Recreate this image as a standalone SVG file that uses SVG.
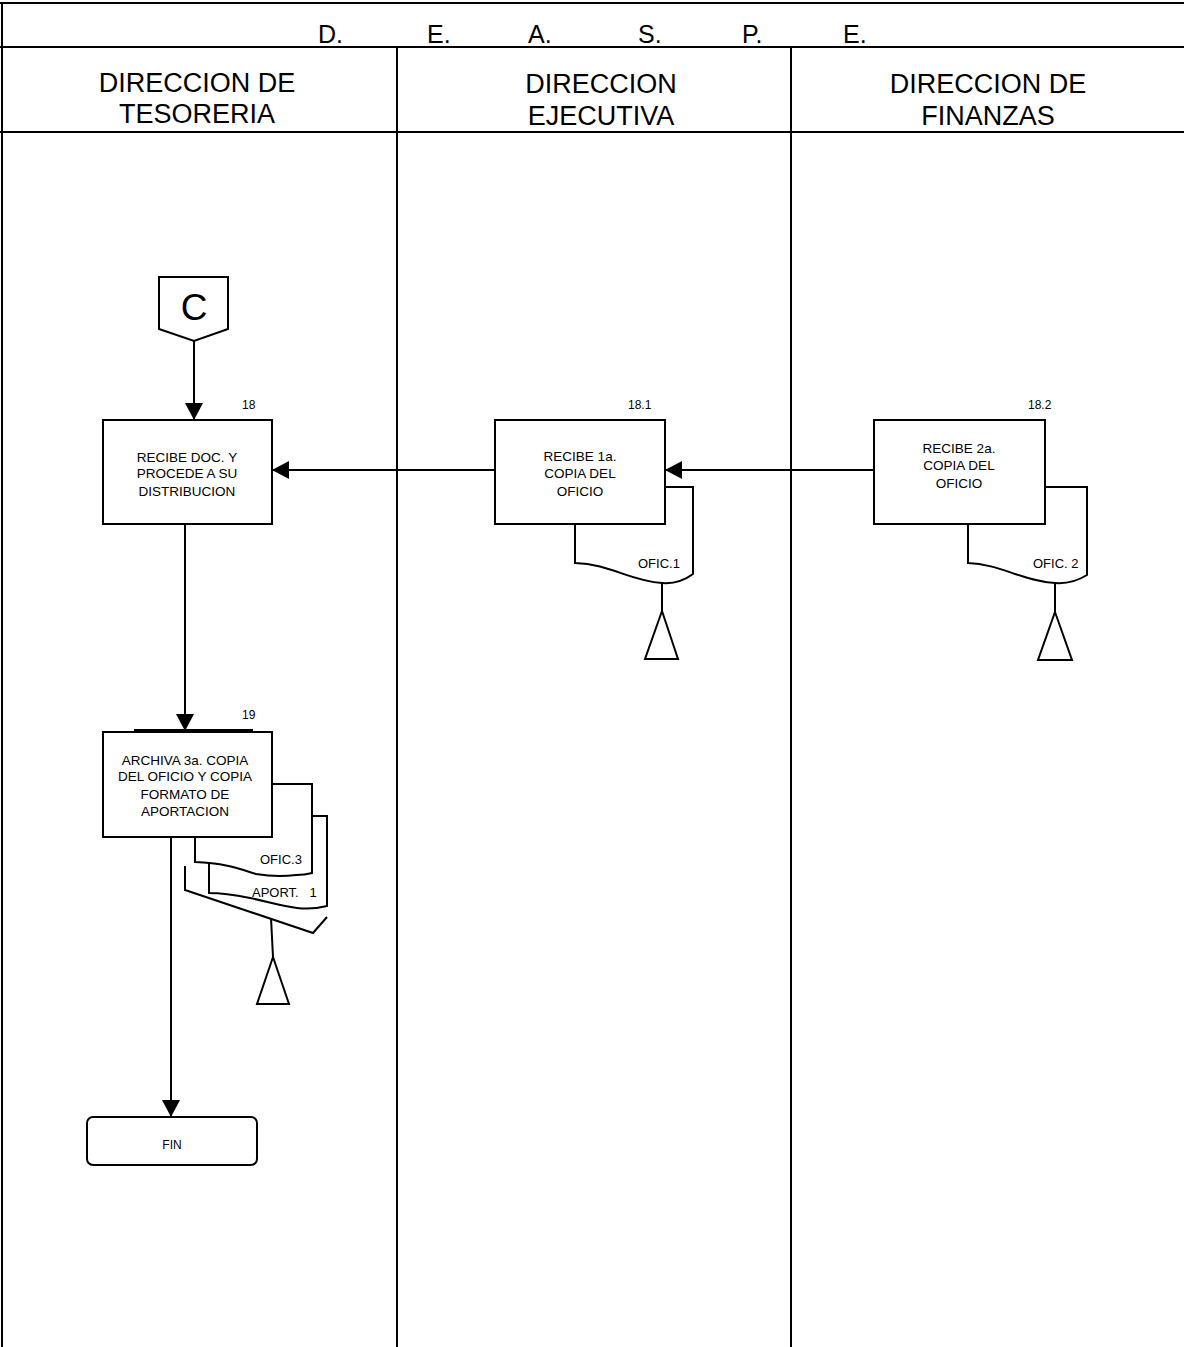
<svg xmlns="http://www.w3.org/2000/svg" width="1184" height="1347" viewBox="0 0 1184 1347">
<style>
.ln{stroke:#000;stroke-width:2;fill:none}
.bx{stroke:#000;stroke-width:2;fill:#fff}
.hd{font-family:"Liberation Sans",Arial,sans-serif;font-size:27px;fill:#000;text-anchor:middle}
.tt{font-family:"Liberation Sans",Arial,sans-serif;font-size:25px;fill:#000}
.t{font-family:"Liberation Sans",Arial,sans-serif;font-size:13.5px;fill:#000;text-anchor:middle}
.n{font-family:"Liberation Sans",Arial,sans-serif;font-size:12px;fill:#000}
.d{font-family:"Liberation Sans",Arial,sans-serif;font-size:13px;fill:#000}
</style>
<defs>
<marker id="ah" viewBox="0 0 17 18" refX="17" refY="9" markerWidth="17" markerHeight="18" markerUnits="userSpaceOnUse" orient="auto">
<path d="M0,0 L17,9 L0,18 Z" fill="#000"/>
</marker>
</defs>
<rect width="1184" height="1347" fill="#fff"/>
<g id="frame">
<line class="ln" x1="0" y1="3" x2="1184" y2="3" stroke-width="3"/>
<line class="ln" x1="0" y1="47" x2="1184" y2="47"/>
<line class="ln" x1="0" y1="132" x2="1184" y2="132"/>
<line class="ln" x1="2" y1="3" x2="2" y2="1347"/>
<line class="ln" x1="397" y1="47" x2="397" y2="1347"/>
<line class="ln" x1="791" y1="47" x2="791" y2="1347"/>
<text class="tt" x="318" y="43">D.</text>
<text class="tt" x="427" y="43">E.</text>
<text class="tt" x="528" y="43">A.</text>
<text class="tt" x="638" y="43">S.</text>
<text class="tt" x="742" y="43">P.</text>
<text class="tt" x="843" y="43">E.</text>
<text class="hd" x="197" y="92">DIRECCION DE</text>
<text class="hd" x="197" y="123">TESORERIA</text>
<text class="hd" x="601" y="93">DIRECCION</text>
<text class="hd" x="601" y="125">EJECUTIVA</text>
<text class="hd" x="988" y="93">DIRECCION DE</text>
<text class="hd" x="988" y="125">FINANZAS</text>
</g>
<g id="connectors">
<line class="ln" x1="194" y1="341" x2="194" y2="420" marker-end="url(#ah)"/>
<line class="ln" x1="495" y1="470" x2="272" y2="470" marker-end="url(#ah)"/>
<line class="ln" x1="874" y1="470" x2="665" y2="470" marker-end="url(#ah)"/>
<line class="ln" x1="185" y1="524" x2="185" y2="731" marker-end="url(#ah)"/>
<line class="ln" x1="171" y1="837" x2="171" y2="1117" marker-end="url(#ah)"/>
</g>
<g id="connC">
<path class="bx" d="M159,277 L228,277 L228,329 L194,341 L159,329 Z"/>
<text x="194" y="320" font-family="Liberation Sans, Arial, sans-serif" font-size="37" text-anchor="middle">C</text>
</g>
<g id="n18">
<rect class="bx" x="103" y="420" width="169" height="104"/>
<text class="n" x="242" y="409">18</text>
<text class="t" x="187" y="462">RECIBE DOC. Y</text>
<text class="t" x="187" y="478">PROCEDE A SU</text>
<text class="t" x="187" y="496">DISTRIBUCION</text>
</g>
<g id="n18_1">
<rect class="bx" x="495" y="420" width="170" height="104"/>
<text class="n" x="628" y="409">18.1</text>
<text class="t" x="580" y="461">RECIBE 1a.</text>
<text class="t" x="580" y="478">COPIA DEL</text>
<text class="t" x="580" y="496">OFICIO</text>
<path class="ln" d="M665,487 L693,487 L693,574 C685,580 675,584 662,583 C630,581 610,564 575,563 L575,524"/>
<text class="d" x="638" y="568">OFIC.1</text>
<line class="ln" x1="662" y1="583" x2="662" y2="611"/>
<path class="ln" d="M662,611 L678,659 L645,659 Z"/>
</g>
<g id="n18_2">
<rect class="bx" x="874" y="420" width="171" height="104"/>
<text class="n" x="1028" y="409">18.2</text>
<text class="t" x="959" y="453">RECIBE 2a.</text>
<text class="t" x="959" y="470">COPIA DEL</text>
<text class="t" x="959" y="488">OFICIO</text>
<path class="ln" d="M1045,487 L1087,487 L1087,575 C1079,580 1068,584 1055,583 C1022,581 1000,564 968,563 L968,524"/>
<text class="d" x="1033" y="568">OFIC. 2</text>
<line class="ln" x1="1055" y1="583" x2="1055" y2="612"/>
<path class="ln" d="M1055,612 L1072,660 L1038,660 Z"/>
</g>
<g id="n19">
<line class="ln" x1="134" y1="730" x2="253" y2="730" stroke-width="3"/>
<rect class="bx" x="103" y="732" width="169" height="105"/>
<text class="n" x="242" y="719">19</text>
<text class="t" x="185" y="765">ARCHIVA 3a. COPIA</text>
<text class="t" x="185" y="781">DEL OFICIO Y COPIA</text>
<text class="t" x="185" y="799">FORMATO DE</text>
<text class="t" x="185" y="816">APORTACION</text>
<path class="ln" d="M312,816 L327,816 L327,906 C315,909 305,909 297,908 C280,906 265,901 250,898 C235,895 222,893 209,893 L209,863"/>
<path class="ln" d="M272,784 L312,784 L312,873 C305,875 300,875 296,875 C280,877 268,876 256,874 C240,869 225,863 195,862 L195,837"/>
<text class="d" x="260" y="864">OFIC.3</text>
<text class="d" x="252" y="897" xml:space="preserve">APORT.   1</text>
<path class="ln" d="M185,866 L185,890 L313,933 L327,917"/>
<line class="ln" x1="271" y1="918" x2="273" y2="957"/>
<path class="ln" d="M273,957 L289,1004 L257,1004 Z"/>
</g>
<g id="fin">
<rect class="bx" x="87" y="1117" width="170" height="48" rx="6"/>
<text class="n" x="172" y="1149" text-anchor="middle">FIN</text>
</g>
</svg>
